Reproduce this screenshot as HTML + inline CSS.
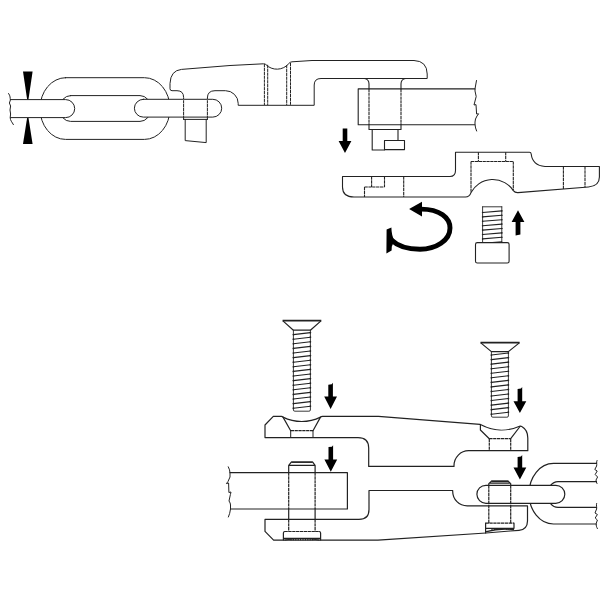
<!DOCTYPE html>
<html lang="en"><head><meta charset="utf-8"><title>Chain connector assembly diagram</title>
<style>html,body{margin:0;padding:0;background:#fff;}body{width:600px;height:600px;overflow:hidden;}svg{display:block;}</style>
</head><body>
<svg width="600" height="600" viewBox="0 0 600 600">
<rect width="600" height="600" fill="#fff"/>
<g fill="none" stroke="#222" stroke-width="1.0" stroke-linecap="round" stroke-linejoin="round">
<path d="M65.5 77.7H144.5A25.5 30.85 0 0 1 144.5 139.4H65.5A25.5 30.85 0 0 1 65.5 77.7Z" fill="#fff"/>
<path d="M70.5 95.6H140A11 12.9 0 0 1 140 121.4H70.5A11 12.9 0 0 1 70.5 95.6Z" fill="#fff"/>
<path d="M10.5 99.6H65.7A9 9 0 0 1 65.7 117.6H10.5Z" fill="#fff" stroke="none"/>
<path d="M10.5 99.6H65.7A9 9 0 0 1 65.7 117.6H10.5"/>
<path d="M8.6 93.5C10.5 96 10 98 10.4 100L9.4 103L10.6 106L10 110L10.6 114L10.2 117.6C10.2 120.5 12 122 13.4 124.6" stroke-width="1"/>
<path d="M143.3 99.3H212.8A8.9 8.9 0 0 1 212.8 117.1H143.3A8.9 8.9 0 0 1 143.3 99.3Z" fill="#fff"/>
<path d="M183.6 119.4V97.5Q183.6 90.7 177 90.7H172Q170 90.7 170 88.7V83.5Q170.5 70.5 181.5 69.4L230 65.5L263.5 63.8Q265 63.6 265.8 64.5A15.5 15.5 0 0 0 288.8 63.6Q289.8 62 292 61.8L312 60.5H414Q427 61 427.2 74V78.5H321Q314.2 78.5 314.2 85V105.3H238.2V103.4A12.7 12.7 0 0 0 225.5 90.7H215Q207.4 90.7 207.4 98V119.4"/>
<path d="M183.6 119.4H207.4M185.2 119.4V140.6L206.2 142.6V119.4"/>
<path d="M183.6 99.8V116.6M207.4 99.8V116.6" stroke="#fff" stroke-width="1.3" stroke-dasharray="0.5 3.3" stroke-linecap="butt"/>
<path d="M264.4 64V105M267.7 64.8V105M286.7 65V105M290.5 63V105" stroke-dasharray="3.3 0.55" stroke-linecap="butt"/>
</g>
<g fill="none" stroke="#222" stroke-width="1.1" stroke-linecap="round" stroke-linejoin="round">
<path d="M475 88.9H358.2V124.7H475"/>
<path d="M476.5 80.5L475 88.8V91L476.2 96.5L474 105L476 104.6L476.6 114L478.6 113.8L477 116Q475 119 475 122V124.5Q475.3 128 476.6 131" stroke-width="1"/>
<path d="M364.5 78.5Q369 79.2 369 84V88.7M405.5 78.5Q401 79.2 401 84V88.7M369 124.4V129.5H401V124.4"/>
<path d="M369 88.7V124.4M401 88.7V124.4" stroke-dasharray="3.3 0.55" stroke-linecap="butt"/>
<path d="M372.2 129.5V150H384.5M398 129.5V140.5"/>
<path d="M384.5 140.5H404.5V149.6H384.5Z"/>
<path d="M342.5 176.5H450Q455.5 176.5 455.5 170.5V152.2H529.5Q531 152.2 531.2 154Q532.5 165.5 545 166.5H599.4V177Q599.4 186 588.5 187L518 192.6Q515 192.8 513.3 190.6A24.6 24.6 0 0 0 471 192.6Q469.5 197 465.5 197H354Q342.5 197 342.5 187Z"/>
<path d="M371.6 176.5V187M384.5 176.5V187M364.5 187H384.5M364.5 187V197M403.7 176.5V197M478.4 152.2V161.5M505.7 152.2V161.5M471 161.5H513.3M471 161.5V192.5M513.3 161.5V190.5M563.4 166.5V189M585 166.5V187.3" stroke-dasharray="3.3 0.55" stroke-linecap="butt"/>
<path d="M482.6 206.8V242.5M501.8 206.8V242.5M482.6 206.8H501.8" stroke-width="0.9"/>
<path d="M482.6 212.50L501.8 210.90M482.6 216.90L501.8 215.30M482.6 221.30L501.8 219.70M482.6 225.70L501.8 224.10M482.6 230.10L501.8 228.50M482.6 234.50L501.8 232.90M482.6 238.90L501.8 237.30M482.6 243.30L501.8 241.70" stroke-width="1.1"/>
<g fill="#222" stroke="none"><circle cx="482.6" cy="212.50" r="0.8"/><circle cx="501.8" cy="210.90" r="0.8"/><circle cx="482.6" cy="216.90" r="0.8"/><circle cx="501.8" cy="215.30" r="0.8"/><circle cx="482.6" cy="221.30" r="0.8"/><circle cx="501.8" cy="219.70" r="0.8"/><circle cx="482.6" cy="225.70" r="0.8"/><circle cx="501.8" cy="224.10" r="0.8"/><circle cx="482.6" cy="230.10" r="0.8"/><circle cx="501.8" cy="228.50" r="0.8"/><circle cx="482.6" cy="234.50" r="0.8"/><circle cx="501.8" cy="232.90" r="0.8"/><circle cx="482.6" cy="238.90" r="0.8"/><circle cx="501.8" cy="237.30" r="0.8"/></g>
<rect x="475.5" y="242.6" width="33.6" height="20.4" rx="1.8" fill="#fff"/>
</g>
<g fill="none" stroke="#222" stroke-width="1.2" stroke-linecap="round" stroke-linejoin="round">
<path d="M282.6 320.6H321.3" stroke-width="1.7" stroke-linecap="butt"/>
<path d="M283.20000000000005 321.1L293.4 330.2H310.4L320.7 321.1"/>
<path d="M293.4 330.2V410.0Q293.4 411.2 294.9 411.2H308.9Q310.4 411.2 310.4 410.0V330.2" stroke-width="0.9"/>
<path d="M293.4 408.20L310.4 406.20M293.4 403.60L310.4 401.60M293.4 399.00L310.4 397.00M293.4 394.40L310.4 392.40M293.4 389.80L310.4 387.80M293.4 385.20L310.4 383.20M293.4 380.60L310.4 378.60M293.4 376.00L310.4 374.00M293.4 371.40L310.4 369.40M293.4 366.80L310.4 364.80M293.4 362.20L310.4 360.20M293.4 357.60L310.4 355.60M293.4 353.00L310.4 351.00M293.4 348.40L310.4 346.40M293.4 343.80L310.4 341.80M293.4 339.20L310.4 337.20M293.4 334.60L310.4 332.60" stroke-width="1.15"/>
<g fill="#222" stroke="none"><circle cx="293.4" cy="408.20" r="0.85"/><circle cx="310.4" cy="406.20" r="0.85"/><circle cx="293.4" cy="403.60" r="0.85"/><circle cx="310.4" cy="401.60" r="0.85"/><circle cx="293.4" cy="399.00" r="0.85"/><circle cx="310.4" cy="397.00" r="0.85"/><circle cx="293.4" cy="394.40" r="0.85"/><circle cx="310.4" cy="392.40" r="0.85"/><circle cx="293.4" cy="389.80" r="0.85"/><circle cx="310.4" cy="387.80" r="0.85"/><circle cx="293.4" cy="385.20" r="0.85"/><circle cx="310.4" cy="383.20" r="0.85"/><circle cx="293.4" cy="380.60" r="0.85"/><circle cx="310.4" cy="378.60" r="0.85"/><circle cx="293.4" cy="376.00" r="0.85"/><circle cx="310.4" cy="374.00" r="0.85"/><circle cx="293.4" cy="371.40" r="0.85"/><circle cx="310.4" cy="369.40" r="0.85"/><circle cx="293.4" cy="366.80" r="0.85"/><circle cx="310.4" cy="364.80" r="0.85"/><circle cx="293.4" cy="362.20" r="0.85"/><circle cx="310.4" cy="360.20" r="0.85"/><circle cx="293.4" cy="357.60" r="0.85"/><circle cx="310.4" cy="355.60" r="0.85"/><circle cx="293.4" cy="353.00" r="0.85"/><circle cx="310.4" cy="351.00" r="0.85"/><circle cx="293.4" cy="348.40" r="0.85"/><circle cx="310.4" cy="346.40" r="0.85"/><circle cx="293.4" cy="343.80" r="0.85"/><circle cx="310.4" cy="341.80" r="0.85"/><circle cx="293.4" cy="339.20" r="0.85"/><circle cx="310.4" cy="337.20" r="0.85"/><circle cx="293.4" cy="334.60" r="0.85"/><circle cx="310.4" cy="332.60" r="0.85"/></g>
<path d="M480.5 342.6H519.6" stroke-width="1.7" stroke-linecap="butt"/>
<path d="M481.1 343.1L491.4 351.6H508.4L519.0 343.1"/>
<path d="M491.4 351.6V416.0Q491.4 417.2 492.9 417.2H506.9Q508.4 417.2 508.4 416.0V351.6" stroke-width="0.9"/>
<path d="M491.4 414.20L508.4 412.20M491.4 409.65L508.4 407.65M491.4 405.10L508.4 403.10M491.4 400.55L508.4 398.55M491.4 396.00L508.4 394.00M491.4 391.45L508.4 389.45M491.4 386.90L508.4 384.90M491.4 382.35L508.4 380.35M491.4 377.80L508.4 375.80M491.4 373.25L508.4 371.25M491.4 368.70L508.4 366.70M491.4 364.15L508.4 362.15M491.4 359.60L508.4 357.60M491.4 355.05L508.4 353.05" stroke-width="1.15"/>
<g fill="#222" stroke="none"><circle cx="491.4" cy="414.20" r="0.85"/><circle cx="508.4" cy="412.20" r="0.85"/><circle cx="491.4" cy="409.65" r="0.85"/><circle cx="508.4" cy="407.65" r="0.85"/><circle cx="491.4" cy="405.10" r="0.85"/><circle cx="508.4" cy="403.10" r="0.85"/><circle cx="491.4" cy="400.55" r="0.85"/><circle cx="508.4" cy="398.55" r="0.85"/><circle cx="491.4" cy="396.00" r="0.85"/><circle cx="508.4" cy="394.00" r="0.85"/><circle cx="491.4" cy="391.45" r="0.85"/><circle cx="508.4" cy="389.45" r="0.85"/><circle cx="491.4" cy="386.90" r="0.85"/><circle cx="508.4" cy="384.90" r="0.85"/><circle cx="491.4" cy="382.35" r="0.85"/><circle cx="508.4" cy="380.35" r="0.85"/><circle cx="491.4" cy="377.80" r="0.85"/><circle cx="508.4" cy="375.80" r="0.85"/><circle cx="491.4" cy="373.25" r="0.85"/><circle cx="508.4" cy="371.25" r="0.85"/><circle cx="491.4" cy="368.70" r="0.85"/><circle cx="508.4" cy="366.70" r="0.85"/><circle cx="491.4" cy="364.15" r="0.85"/><circle cx="508.4" cy="362.15" r="0.85"/><circle cx="491.4" cy="359.60" r="0.85"/><circle cx="508.4" cy="357.60" r="0.85"/><circle cx="491.4" cy="355.05" r="0.85"/><circle cx="508.4" cy="353.05" r="0.85"/></g>
<path d="M596.5 463.4H553.5A24.5 30.3 0 0 0 553.5 524H596.5"/>
<path d="M596.5 481.7H558A10.5 12.8 0 0 0 558 507.3H596.5"/>
<path d="M597 460.5C596 462.5 597.2 464 596.6 466L594.8 469.5L597.2 471L595.2 474.5L597.6 477L596 480C596 481.5 596.5 482.5 597 483.5" stroke-width="1"/>
<path d="M596.6 503.5C596 505.5 597 507 596.6 509L595 513L597.4 514.5L595.2 518L597.4 520L596.2 523.5C596 525.5 596.5 527 597.4 528.6" stroke-width="1"/>
<path d="M273.3 416.4H281.5Q282.3 416.4 283 417.1A42 42 0 0 0 320.5 417.1Q321.3 416.4 322.5 416.4H378.5L480 424.3Q480.6 424.4 481 424.8A44 44 0 0 0 519.6 426.2Q520.6 425.8 521.8 426.6Q527.8 430 527.8 438V450.7H468.7A14.7 15 0 0 0 454 465.7V466.4H368.7V448Q368.7 437.6 358 437.6H265V425Z"/>
<path d="M283 417.1L290.7 430.7M320.5 417.1L313 430.7M480.4 424.5V430L489.3 438.7M520 426.5L510.7 438.7"/>
<path d="M290.7 430.7V437.6M313 430.7V437.6" stroke-width="1"/>
<path d="M290.7 430.7H313M489.3 438.7H510.7M489.3 438.7V450.7M510.7 438.7V450.7" stroke-dasharray="3.3 0.55" stroke-linecap="butt"/>
<path d="M265 519.4H359Q369 519.4 369 509.5V490.5H452.7V491.5A14.5 14.3 0 0 0 467.2 505.8H527.5V521Q527.4 529.6 519 530.3L510 531L486 533L378 540.2H273.6L265 531.4Z"/>
<path d="M230 472.7H347.4V509H230.5"/>
<path d="M228.3 466.8Q230 470 230 473V477L228 481.5L226.4 483.6L228.6 483L228.9 492.5L231 492L230.4 494.5L229 501Q230.5 503 230.5 505V509Q230 513.5 228.4 517" stroke-width="1"/>
<path d="M291.3 462.1H312.7" stroke-width="1.7" stroke-linecap="butt"/>
<path d="M288.7 472.5V465.3L291.3 462.2M312.7 462.2L315.1 465.3V472.5M288.7 465.3H315.1"/>
<path d="M288.7 472.5V509M315.1 472.5V509M288.7 519.4V531.5M315.1 519.4V531.5M284.5 531.5H319.5" stroke-dasharray="3.3 0.55" stroke-linecap="butt"/>
<path d="M288.7 509V519.4M315.1 509V519.4"/>
<path d="M283.4 540V533Q283.4 531.5 285 531.5M319 531.5Q320.6 531.5 320.6 533V540M283.4 538.4H320.6"/>
<path d="M285 540Q302 537 319 540" stroke-width="1.2"/>
<path d="M291 538.6V540.2M293.4 538.6V540.2M295.8 538.6V540.2M298.2 538.6V540.2M300.6 538.6V540.2M303 538.6V540.2M305.4 538.6V540.2M307.8 538.6V540.2M310.2 538.6V540.2M312.6 538.6V540.2" stroke-width="1.1" stroke-linecap="butt"/>
<path d="M485.9 485.3H555.8A9 9 0 0 1 555.8 503.3H485.9A9 9 0 0 1 485.9 485.3Z" fill="#fff"/>
<path d="M491.2 481.2H508.4" stroke-width="1.8" stroke-linecap="butt"/>
<path d="M488.8 485.4V483.6L491.2 481.4M508.4 481.4L510.7 483.6V485.4M489.5 483.2H510"/>
<path d="M488.8 485.4V523M510.7 485.4V523M485.6 523.1H514" stroke-dasharray="3.3 0.55" stroke-linecap="butt"/>
<path d="M485.6 523.1V533M514 523.1V528.3H485.6"/>
<path d="M486.5 531.6Q500 527.8 513.5 529.6" stroke-width="1.3"/>
<path d="M492 528.6V530.4M494.4 528.6V530M496.8 528.6V529.8M499.2 528.6V529.6M501.6 528.6V529.6M504 528.6V529.6M506.4 528.6V529.8" stroke-width="1.1" stroke-linecap="butt"/>
</g>
<g fill="#000" stroke="none">
<path d="M23 71.6H32.6L28.5 99.2H27.1Z"/>
<path d="M27.1 118H28.5L32.6 144H23Z"/>
<path d="M342.7 128.40L346.10 128.40L347.3 128.40V141H351.4L345 153L338.6 141H342.7Z"/>
<path d="M328.3 384.72L331.70 384.36L332.90000000000003 382.80V396.6H337.0L330.6 409L324.20000000000005 396.6H328.3Z"/>
<path d="M328.5 447.12L331.90 446.76L333.1 445.20V459.5H337.2L330.8 471.8L324.40000000000003 459.5H328.5Z"/>
<path d="M517.6 388.92L521.00 388.56L522.1999999999999 387.00V401.2H526.3L519.9 413L513.5 401.2H517.6Z"/>
<path d="M517.6 456.92L521.00 456.56L522.1999999999999 455.00V467.5H526.3L519.9 479.6L513.5 467.5H517.6Z"/>
<path d="M518 210.2L524.4 222H520.4V234.4L515.6 235.6V222H511.6Z"/>
<path d="M409.1 208.9L422 201.8V216.5Z"/>
<path d="M386.6 229.6L391.4 227.6Q391.5 236 394.5 240.5L391.8 246.5L391.6 250.4L386.4 253.5Z"/>
</g>
<path d="M421 209.1C440 209.1 450 218 450 228C450 240.5 436 249.2 420 249.2C408 249.2 398 246.5 391.5 240" fill="none" stroke="#000" stroke-width="4.9"/>
</svg>
</body></html>
